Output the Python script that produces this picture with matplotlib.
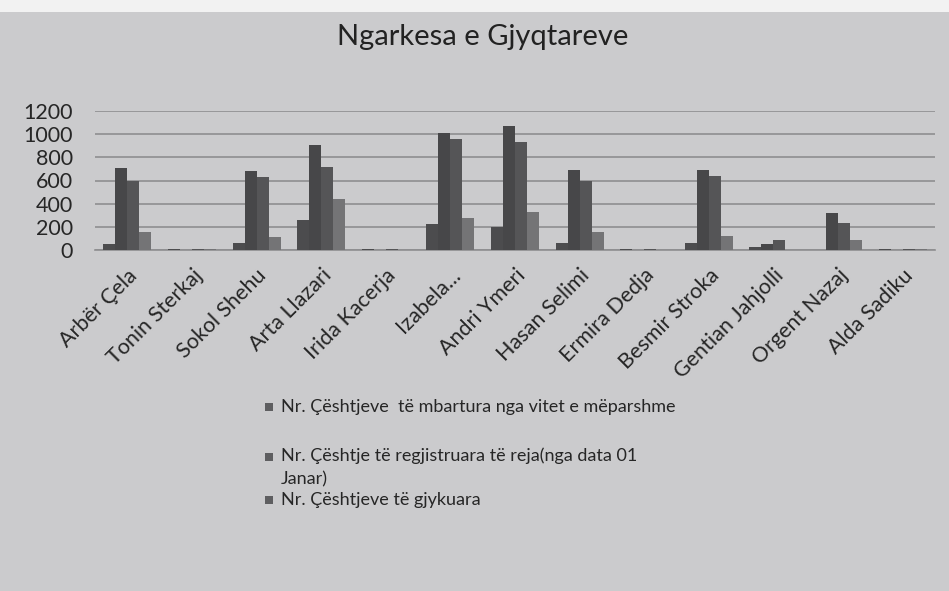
import matplotlib
matplotlib.use("Agg")
import matplotlib.pyplot as plt
import numpy as np
from matplotlib.patches import Rectangle

plt.rcParams['font.family'] = ['Lato', 'DejaVu Sans']

categories = ["Arbër Çela", "Tonin Sterkaj", "Sokol Shehu", "Arta Llazari", "Irida Kacerja",
              "Izabela...", "Andri Ymeri", "Hasan Selimi", "Ermira Dedja", "Besmir Stroka",
              "Gentian Jahjolli", "Orgent Nazaj", "Alda Sadiku"]
mbartura = [49, 7, 63, 260, 6, 225, 196, 63, 6, 63, 29, 0, 6]
regjistruara = [707, 0, 684, 903, 0, 1010, 1071, 687, 0, 693, 50, 317, 0]
gjykuara = [597, 6, 629, 716, 6, 958, 935, 593, 6, 635, 88, 231, 5]
mbetura = [158, 6, 116, 440, 0, 275, 330, 158, 0, 121, 0, 90, 5]

series = [mbartura, regjistruara, gjykuara, mbetura]
colors = ["#4c4c4e", "#474749", "#555557", "#747476"]
legend_labels = ["Nr. Çështjeve  të mbartura nga vitet e mëparshme",
                 "Nr. Çështje të regjistruara të reja(nga data 01\nJanar)",
                 "Nr. Çështjeve të gjykuara"]
yticks = [0, 200, 400, 600, 800, 1000, 1200]

W, H = 949, 591
bg = "#cbcbcd"
fig = plt.figure(figsize=(W / 100, H / 100), dpi=100, facecolor=bg)
fig.patches.append(Rectangle((0, 1 - 12 / H), 1, 12 / H, transform=fig.transFigure,
                             facecolor="#f2f2f2", edgecolor="none", zorder=0))

left, right, top, bottom = 95, 935, 111, 250
ax = fig.add_axes([left / W, 1 - bottom / H, (right - left) / W, (bottom - top) / H])
ax.set_facecolor("none")

x = np.arange(len(categories))
bw = 0.186
for i, (vals, c) in enumerate(zip(series, colors)):
    ax.bar(x + (i - 1.5) * bw, vals, bw, color=c, edgecolor="none", zorder=3)

ax.set_xlim(-0.5, len(categories) - 0.5)
ax.set_ylim(0, 1200)
ax.set_yticks(yticks)
ax.set_yticklabels([str(v) for v in yticks], fontsize=15.5, color="#262626")
ax.yaxis.grid(True, color="#8e8e90", linewidth=1.2, zorder=0)
ax.set_axisbelow(True)
ax.tick_params(axis='y', length=0, pad=16)
ax.set_xticks(x)
ax.set_xticklabels(categories, rotation=45, ha='right', va='top',
                   rotation_mode='anchor', fontsize=15.5, color="#262626")
ax.tick_params(axis='x', length=0, pad=11)
for s in ["left", "right", "top"]:
    ax.spines[s].set_visible(False)
ax.spines["bottom"].set_color("#8e8e90")
ax.spines["bottom"].set_linewidth(1.2)

fig.text(483 / W, 1 - 37 / H, "Ngarkesa e Gjyqtareve", ha='center', va='center',
         fontsize=21, color="#222222")

# legend (only three entries visible in the reference)
ys = [407, 457, 500]
for yy, lab in zip(ys, legend_labels):
    fig.patches.append(Rectangle((265 / W, 1 - (yy + 4) / H), 8 / W, 8 / H,
                                 transform=fig.transFigure, facecolor="#5e5e60",
                                 edgecolor="none"))
    if "\n" in lab:
        fig.text(281 / W, 1 - (yy - 10) / H, lab, ha='left', va='top', fontsize=13,
                 color="#262626", linespacing=1.6)
    else:
        fig.text(281 / W, 1 - yy / H, lab, ha='left', va='center', fontsize=13,
                 color="#262626")

fig.savefig("out.png", dpi=100, facecolor=bg)
